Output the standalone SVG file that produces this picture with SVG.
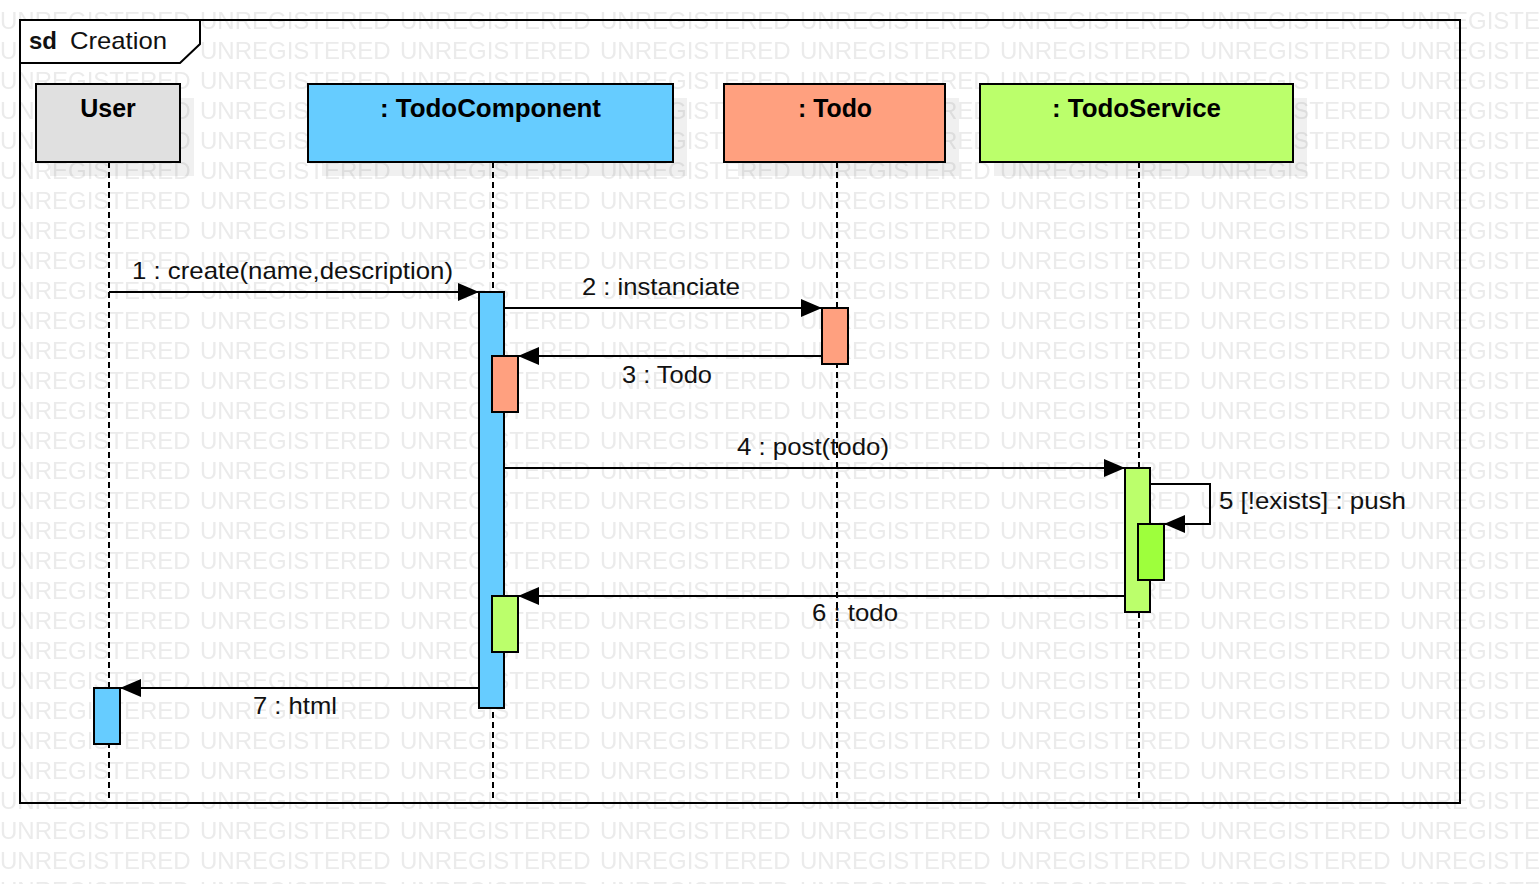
<svg xmlns="http://www.w3.org/2000/svg" width="1540" height="884" viewBox="0 0 1540 884">
  <defs>
    <pattern id="wm" x="0" y="0" width="200" height="30" patternUnits="userSpaceOnUse">
      <text x="0" y="29" font-family="Liberation Sans, Arial, sans-serif" font-size="24" fill="#ebebeb">UNREGISTERED</text>
    </pattern>
    <marker id="arr" markerUnits="userSpaceOnUse" markerWidth="22" markerHeight="18" refX="21" refY="9" orient="auto">
      <path d="M0,0 L21,9 L0,18 Z" fill="#000"/>
    </marker>
    <style>
      .frame { fill: none; stroke: #000; stroke-width: 2; }
      .tab { fill: #fff; stroke: #000; stroke-width: 2; }
      .shadow { fill: #000; fill-opacity: 0.06; }
      .head { stroke: #000; stroke-width: 2; }
      .life { stroke: #000; stroke-width: 2; stroke-dasharray: 6 4; fill: none; }
      .act { stroke: #000; stroke-width: 2; }
      .msg { stroke: #000; stroke-width: 2; fill: none; marker-end: url(#arr); }
      .name { font-family: "Liberation Sans", Arial, sans-serif; font-size: 25px; font-weight: bold; fill: #000; text-anchor: middle; }
      .lbl { font-family: "Liberation Sans", Arial, sans-serif; font-size: 24px; fill: #111; }
      .blue { fill: #66ccff; }
      .salmon { fill: #ffa07f; }
      .lgreen { fill: #bbff6b; }
      .bgreen { fill: #9eff3c; }
      .gray { fill: #e0e0e0; }
    </style>
  </defs>

  <rect x="0" y="0" width="1540" height="884" fill="#fff"/>
  <rect x="0" y="0" width="1540" height="884" fill="url(#wm)"/>

  <g id="frame">
    <rect class="frame" x="20" y="20" width="1440" height="783"/>
    <path class="tab" d="M20,20 L200,20 L200,44 L180,63 L20,63 Z"/>
    <text class="lbl" x="29" y="49" fill="#000"><tspan font-weight="bold" font-size="24" textLength="28" lengthAdjust="spacingAndGlyphs">sd</tspan><tspan x="70" textLength="97" lengthAdjust="spacingAndGlyphs">Creation</tspan></text>
  </g>

  <g id="lifelines">
    <line class="life" x1="109" y1="162" x2="109" y2="803"/>
    <line class="life" x1="493" y1="162" x2="493" y2="803"/>
    <line class="life" x1="837" y1="162" x2="837" y2="803"/>
    <line class="life" x1="1139" y1="162" x2="1139" y2="803"/>
  </g>

  <g id="node-user">
    <rect class="shadow" x="50" y="98" width="144" height="78"/>
    <rect class="head gray" x="36" y="84" width="144" height="78"/>
    <text class="name" x="108" y="117">User</text>
  </g>

  <g id="node-todocomponent">
    <rect class="shadow" x="322" y="98" width="365" height="78"/>
    <rect class="head blue" x="308" y="84" width="365" height="78"/>
    <text class="name" x="490.5" y="117" textLength="221" lengthAdjust="spacingAndGlyphs">: TodoComponent</text>
  </g>

  <g id="node-todo">
    <rect class="shadow" x="738" y="98" width="221" height="78"/>
    <rect class="head salmon" x="724" y="84" width="221" height="78"/>
    <text class="name" x="835" y="117" textLength="74" lengthAdjust="spacingAndGlyphs">: Todo</text>
  </g>

  <g id="node-todoservice">
    <rect class="shadow" x="994" y="98" width="313" height="78"/>
    <rect class="head lgreen" x="980" y="84" width="313" height="78"/>
    <text class="name" x="1136.5" y="117" textLength="169" lengthAdjust="spacingAndGlyphs">: TodoService</text>
  </g>

  <g id="activations">
    <rect class="act blue" x="479" y="292" width="25" height="416"/>
    <rect class="act salmon" x="492" y="356" width="26" height="56"/>
    <rect class="act lgreen" x="492" y="596" width="26" height="56"/>
    <rect class="act salmon" x="822" y="308" width="26" height="56"/>
    <rect class="act lgreen" x="1125" y="468" width="25" height="144"/>
    <rect class="act bgreen" x="1138" y="524" width="26" height="56"/>
    <rect class="act blue" x="94" y="688" width="26" height="56"/>
  </g>

  <g id="connectors">
    <line class="msg" x1="109" y1="292" x2="479" y2="292"/>
    <line class="msg" x1="504" y1="308" x2="822" y2="308"/>
    <line class="msg" x1="822" y1="356" x2="518" y2="356"/>
    <line class="msg" x1="504" y1="468" x2="1125" y2="468"/>
    <polyline class="msg" points="1150,484 1210,484 1210,524 1164,524"/>
    <line class="msg" x1="1125" y1="596" x2="518" y2="596"/>
    <line class="msg" x1="479" y1="688" x2="120" y2="688"/>
  </g>

  <g id="labels">
    <text class="lbl" x="132" y="279" textLength="321" lengthAdjust="spacingAndGlyphs">1 : create(name,description)</text>
    <text class="lbl" x="582" y="295" textLength="158" lengthAdjust="spacingAndGlyphs">2 : instanciate</text>
    <text class="lbl" x="622" y="383" textLength="90" lengthAdjust="spacingAndGlyphs">3 : Todo</text>
    <text class="lbl" x="737" y="455" textLength="152" lengthAdjust="spacingAndGlyphs">4 : post(todo)</text>
    <text class="lbl" x="1219" y="509" textLength="187" lengthAdjust="spacingAndGlyphs">5 [!exists] : push</text>
    <text class="lbl" x="812" y="621" textLength="86" lengthAdjust="spacingAndGlyphs">6 : todo</text>
    <text class="lbl" x="253" y="714" textLength="84" lengthAdjust="spacingAndGlyphs">7 : html</text>
  </g>
</svg>
